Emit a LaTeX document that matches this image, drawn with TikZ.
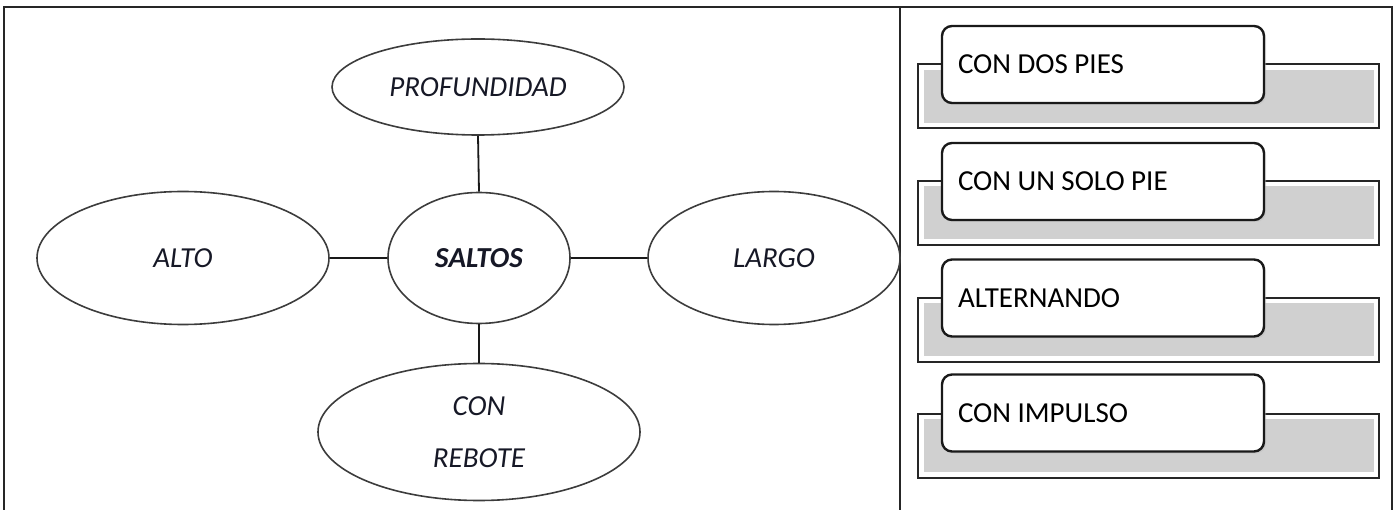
\documentclass[tikz,border=0pt]{standalone}
\usepackage{fontspec}
\setmainfont{Carlito}
\usetikzlibrary{shapes.geometric,shadows}
\definecolor{ink}{RGB}{22,24,38}
\definecolor{ellline}{RGB}{60,60,60}
\definecolor{panelgray}{RGB}{208,208,208}
\newcommand{\tightspaces}{\spaceskip=6.5pt plus 1pt\relax\xspaceskip=6.5pt\relax}
\tikzset{
  frameline/.style={draw=black!85, line width=2pt},
  bubble/.style={ellipse, draw=ellline, line width=1.6pt, fill=white, inner sep=0pt,
    font=\fontsize{29}{52}\selectfont\itshape, text=ink, align=center},
  link/.style={draw=black!90, line width=1.8pt},
  panel/.style={rectangle, draw=black!85, line width=2pt, fill=white, inner sep=0pt,
    minimum width=461pt, minimum height=64pt},
  panelfill/.style={rectangle, fill=panelgray, inner sep=0pt,
    minimum width=450pt, minimum height=53pt},
  tab/.style={rectangle, rounded corners=10pt, draw=black!90, line width=2.4pt, fill=white,
    minimum width=322pt, minimum height=77pt, text width=290pt, inner xsep=16pt, align=left,
    font=\fontsize{29}{34}\selectfont, text=black,
    drop shadow={shadow xshift=2pt, shadow yshift=-2pt, fill=black!25}}
}
\begin{document}
\begin{tikzpicture}[x=1pt,y=-1pt]
\useasboundingbox (0,0) rectangle (1400,510);
% table frame
\draw[frameline] (4,515) -- (4,7) -- (1392,7) -- (1392,515);
\draw[frameline] (900,7) -- (900,515);
% mind map
\node[bubble, minimum width=292pt, minimum height=96pt] (prof) at (478,87) {PROFUNDIDAD};
\node[bubble, minimum width=292pt, minimum height=133pt] (alto) at (183,258) {ALTO};
\node[bubble, minimum width=182pt, minimum height=131pt, font=\fontsize{29}{52}\selectfont\bfseries\itshape] (saltos) at (479,258) {SALTOS};
\node[bubble, minimum width=252pt, minimum height=133pt] (largo) at (774,258) {LARGO};
\node[bubble, minimum width=322pt, minimum height=137pt] (rebote) at (479,432) {CON\\REBOTE};
\draw[link] (prof.south) -- (saltos.north);
\draw[link] (alto.east) -- (saltos.west);
\draw[link] (saltos.east) -- (largo.west);
\draw[link] (saltos.south) -- (rebote.north);
% right column
\foreach \i/\oy/\ty/\txt in {1/96.5/64.5/CON DOS PIES, 2/213/181.5/CON UN SOLO PIE, 3/330/298/ALTERNANDO, 4/445.5/413/CON IMPULSO}{
  \node[panel] (p\i) at (1148.5,\oy) {};
  \node[panelfill] (f\i) at (p\i.center) {};
  \node[tab] (t\i) at (1103,\ty) {\tightspaces\txt};
}
\end{tikzpicture}
\end{document}
